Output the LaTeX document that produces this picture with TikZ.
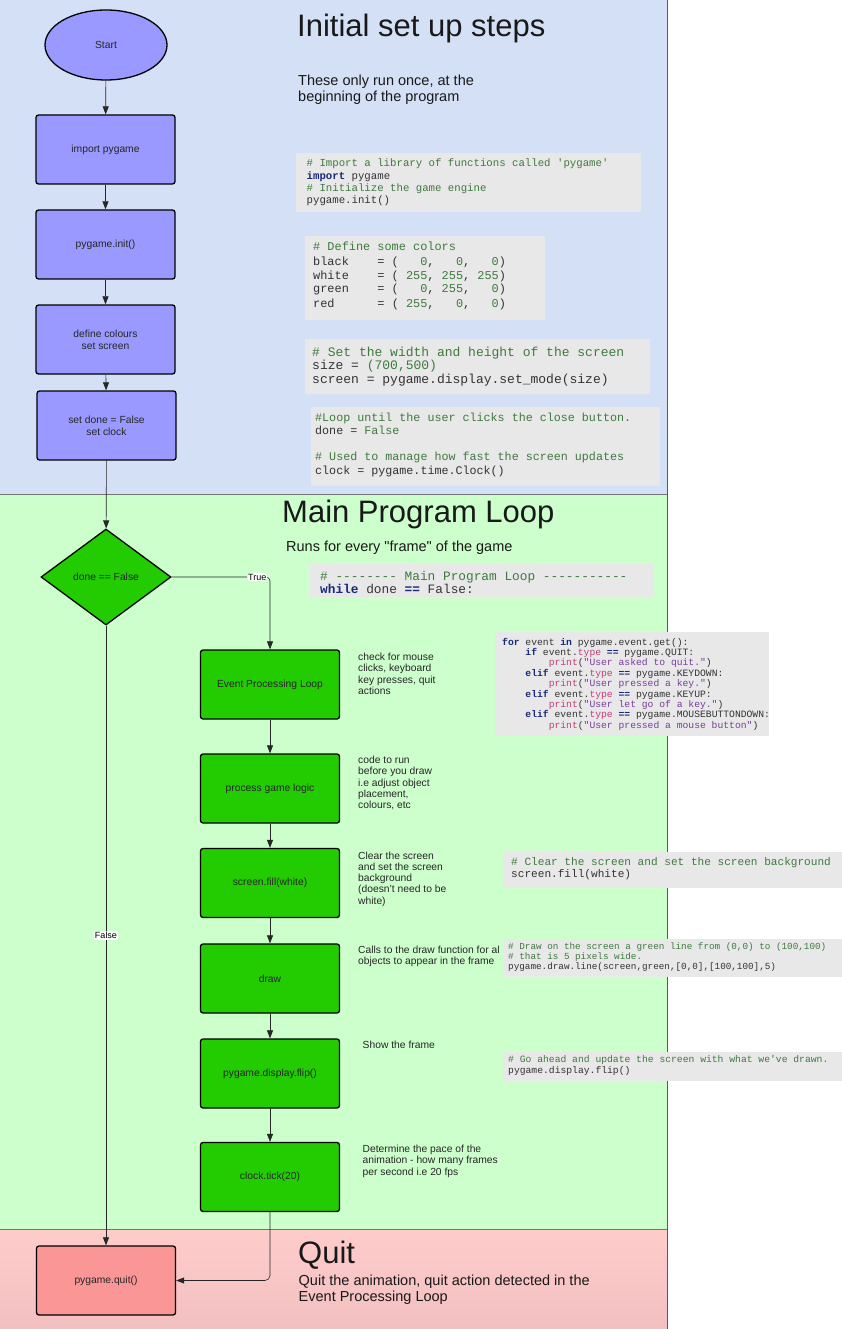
\documentclass[tikz,border=0pt]{standalone}
\usepackage{fontspec}
\setmainfont{Liberation Sans}
\setmonofont{Liberation Mono}
\newfontfamily\quotefont{Liberation Sans}[Ligatures=TeXOff]
\usetikzlibrary{shapes.geometric,arrows.meta}
\definecolor{panelblue}{HTML}{D4E0F6}
\definecolor{panelgreen}{HTML}{CCFFCC}
\definecolor{panelpinktop}{HTML}{FFCCCC}
\definecolor{panelpinkbot}{HTML}{F2C0C0}
\definecolor{nodeblue}{HTML}{9999FF}
\definecolor{nodegreen}{HTML}{22CC00}
\definecolor{nodepink}{HTML}{FA9696}
\definecolor{codebg}{HTML}{E8E8E8}
\definecolor{codetxt}{HTML}{333333}
\definecolor{cmtgreen}{HTML}{3E7A3E}
\definecolor{kwnavy}{HTML}{1A2A7A}
\definecolor{strpurple}{HTML}{7A3E9D}
\definecolor{fnpink}{HTML}{C0407A}
\newcommand\ccom[1]{\textcolor{cmtgreen}{#1}}
\newcommand\ckw[1]{\textcolor{kwnavy}{\bfseries #1}}
\newcommand\cstr[1]{\textcolor{strpurple}{#1}}
\newcommand\cfn[1]{\textcolor{fnpink}{#1}}
\newcommand\cnum[1]{\textcolor{cmtgreen}{#1}}
\begin{document}
\begin{tikzpicture}[x=1pt,y=-1pt,
  box/.style={draw=black, line width=1.3pt, rounded corners=2.5pt, minimum width=139pt, minimum height=69pt, inner sep=0pt, align=center, font=\fontsize{10.3}{12}\selectfont, text=black!85},
  bluebox/.style={box, fill=nodeblue},
  greenbox/.style={box, fill=nodegreen},
  pinkbox/.style={box, fill=nodepink},
  arr/.style={-{Triangle[length=8pt,width=6pt]}, line width=0.6pt, draw=black!85},
  lab/.style={fill=white, inner sep=1pt, font=\fontsize{9}{10}\selectfont},
  title/.style={anchor=base west, inner sep=0pt, font=\fontsize{31}{36}\selectfont, text=black!90},
  subtitle/.style={anchor=base west, inner sep=0pt, align=left, font=\fontsize{14.5}{16}\selectfont, text=black!90},
  note/.style={anchor=base west, inner sep=0pt, align=left, font=\fontsize{10.3}{11.3}\selectfont, text=black!85},
  code/.style={anchor=base west, inner sep=0pt, align=left, text=codetxt}
]
\useasboundingbox (0,0) rectangle (842,1329);
\fill[white] (0,0) rectangle (842,1329);
% panels
\fill[panelblue] (0,0) rectangle (667.5,494.5);
\fill[panelgreen] (0,494.5) rectangle (667.5,1229);
\shade[top color=panelpinktop, bottom color=panelpinkbot] (0,1229) rectangle (667.5,1329);
\draw[black!55, line width=0.8pt] (0,494.5) -- (667.5,494.5);
\draw[black!55, line width=0.8pt] (0,1229) -- (667.5,1229);
\draw[black!65, line width=0.8pt] (667.5,0) -- (667.5,1329);

% titles (anchor = baseline of last line)
\node[title] (t1) at (297,37) {Initial set up steps};
\node[subtitle] (s1) at (298,101.5) {These only run once, at the\\beginning of the program};
\node[title] (t2) at (282,522) {Main Program Loop};
\node[subtitle] (s2) at (286,551.5) {Runs for every {\quotefont"}frame{\quotefont"} of the game};
\node[title] (t3) at (298,1263) {Quit};
\node[subtitle] (s3) at (298.5,1301.5) {Quit the animation, quit action detected in the\\Event Processing Loop};

% code boxes
\fill[codebg] (296,153) rectangle (641,212);
\node[code, font=\ttfamily\fontsize{10.7}{12.3}\selectfont] (c1) at (306.5,203.9) {\ccom{\# Import a library of functions called 'pygame'}\\\ckw{import} pygame\\\ccom{\# Initialize the game engine}\\pygame.init()};

\fill[codebg] (305,236.5) rectangle (545,320);
\node[code, font=\ttfamily\fontsize{11.9}{14}\selectfont] (c2) at (313,307) {\ccom{\# Define some colors}\\black~~~~= (~~~\cnum{0},~~~\cnum{0},~~~\cnum{0})\\white~~~~= ( \cnum{255}, \cnum{255}, \cnum{255})\\green~~~~= (~~~\cnum{0}, \cnum{255},~~~\cnum{0})\\red~~~~~~= ( \cnum{255},~~~\cnum{0},~~~\cnum{0})};

\fill[codebg] (305,339) rectangle (650,394);
\node[code, font=\ttfamily\fontsize{13}{13.8}\selectfont] (c3) at (312,383.6) {\ccom{\# Set the width and height of the screen}\\size = \cnum{(700,500)}\\screen = pygame.display.set\_mode(size)};

\fill[codebg] (311,407) rectangle (660,486);
\node[code, font=\ttfamily\fontsize{11.7}{13.3}\selectfont] (c4) at (315,474.2) {\ccom{\#Loop until the user clicks the close button.}\\done = \cnum{False}\\\mbox{}\\\ccom{\# Used to manage how fast the screen updates}\\clock = pygame.time.Clock()};

\fill[codebg] (310,563) rectangle (653,597);
\node[code, font=\ttfamily\fontsize{12.8}{13.5}\selectfont] (c5) at (320,593.5) {\ccom{\# -------- Main Program Loop -----------}\\\ckw{while} done \ckw{==} False:};

\fill[codebg] (495,632) rectangle (769,736);
\node[code, font=\ttfamily\fontsize{9.7}{10.4}\selectfont] (c6) at (502,728.2) {\ckw{for} event \ckw{in} pygame.event.get():\\\phantom{xxxx}\ckw{if} event.\cfn{type} \ckw{==} pygame.QUIT:\\\phantom{xxxxxxxx}\cfn{print}(\cstr{"User asked to quit."})\\\phantom{xxxx}\ckw{elif} event.\cfn{type} \ckw{==} pygame.KEYDOWN:\\\phantom{xxxxxxxx}\cfn{print}(\cstr{"User pressed a key."})\\\phantom{xxxx}\ckw{elif} event.\cfn{type} \ckw{==} pygame.KEYUP:\\\phantom{xxxxxxxx}\cfn{print}(\cstr{"User let go of a key."})\\\phantom{xxxx}\ckw{elif} event.\cfn{type} \ckw{==} pygame.MOUSEBUTTONDOWN:\\\phantom{xxxxxxxx}\cfn{print}(\cstr{"User pressed a mouse button"})};

\fill[codebg] (503,852) rectangle (842,888);
\node[code, font=\ttfamily\fontsize{11.1}{12}\selectfont] (c7) at (511,877) {\ccom{\# Clear the screen and set the screen background}\\screen.fill(white)};

\fill[codebg] (503,939) rectangle (842,977);
\node[code, font=\ttfamily\fontsize{9.3}{9.8}\selectfont] (c8) at (508,969.1) {\ccom{\# Draw on the screen a green line from (0,0) to (100,100)}\\\ccom{\# that is 5 pixels wide.}\\pygame.draw.line(screen,green,[0,0],[100,100],5)};

\fill[codebg] (503,1052) rectangle (842,1081);
\node[code, font=\ttfamily\fontsize{9.7}{10.5}\selectfont] (c9) at (508,1073) {\ccom{\# Go ahead and update the screen with what we've drawn.}\\pygame.display.flip()};

% notes
\node[note] (n1) at (358,694.4) {check for mouse\\clicks, keyboard\\key presses, quit\\actions};
\node[note] (n2) at (358,808.7) {code to run\\before you draw\\i.e adjust object\\placement,\\colours, etc};
\node[note] (n3) at (358,904.2) {Clear the screen\\and set the screen\\background\\(doesn't need to be\\white)};
\node[note] (n4) at (358,964.8) {Calls to the draw function for al\\objects to appear in the frame};
\node[note] (n5) at (362.5,1048.5) {Show the frame};
\node[note] (n6) at (362.5,1175.1) {Determine the pace of the\\animation - how many frames\\per second i.e 20 fps};

% flowchart nodes
\node[ellipse, draw=black, line width=1.3pt, fill=nodeblue, minimum width=122pt, minimum height=70pt, inner sep=0pt, font=\fontsize{10.3}{12}\selectfont, text=black!85] (start) at (106,45) {Start};
\node[bluebox] (imp) at (105.5,149.5) {import pygame};
\node[bluebox] (init) at (105.5,244.5) {pygame.init()};
\node[bluebox] (col) at (105.5,339.5) {define colours\\set screen};
\node[bluebox] (done) at (106.5,425.5) {set done = False\\set clock};
\node[diamond, draw=black, line width=1.3pt, fill=nodegreen, minimum width=130pt, minimum height=96pt, inner sep=0pt, font=\fontsize{10.3}{12}\selectfont, text=black!85] (dec) at (106,577) {done == False};
\node[greenbox] (evt) at (270,684.5) {Event Processing Loop};
\node[greenbox] (logic) at (270,788.5) {process game logic};
\node[greenbox] (fill) at (270,883) {screen.fill(white)};
\node[greenbox] (drw) at (270,978.5) {draw};
\node[greenbox] (flip) at (270,1073.5) {pygame.display.flip()};
\node[greenbox] (clk) at (270,1177) {clock.tick(20)};
\node[pinkbox] (quit) at (106,1280.5) {pygame.quit()};

% connectors
\draw[arr] (start) -- (imp);
\draw[arr] (imp) -- (init);
\draw[arr] (init) -- (col);
\draw[arr] (col) -- (done);
\draw[arr] (done) -- (dec);
\draw[arr, rounded corners=4pt] (dec.east) -| node[lab, pos=0.435] {True} (evt.north);
\draw[arr] (evt) -- (logic);
\draw[arr] (logic) -- (fill);
\draw[arr] (fill) -- (drw);
\draw[arr] (drw) -- (flip);
\draw[arr] (flip) -- (clk);
\draw[arr] (dec.south) -- node[lab, pos=0.5] {False} (quit.north);
\draw[arr, rounded corners=5pt] (clk.south) |- (quit.east);
\end{tikzpicture}
\end{document}
